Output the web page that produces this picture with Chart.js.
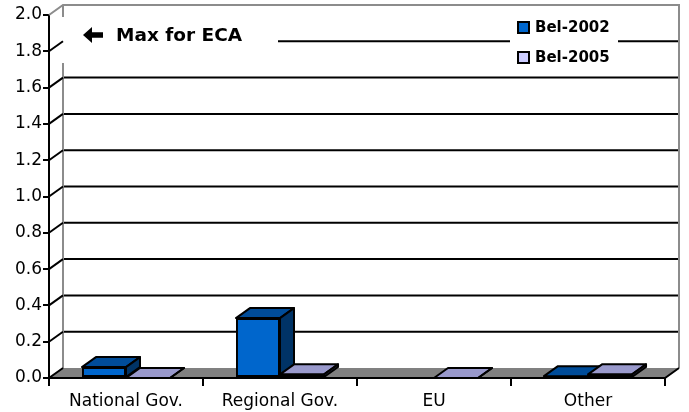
<!DOCTYPE html>
<html>
<head>
<meta charset="utf-8">
<script src="https://cdn.jsdelivr.net/npm/chart.js@4.4.0/dist/chart.umd.min.js"></script>
<style>
  body { margin: 0; background: #fff; }
  #wrap { width: 689px; height: 412px; }
</style>
</head>
<body>
<div id="wrap"><canvas id="fundingChart"></canvas></div>
<script>
// data
const categories = ["National Gov.", "Regional Gov.", "EU", "Other"];
const seriesNames = ["Bel-2002", "Bel-2005"];
const bel2002 = [0.06, 0.33, null, 0.01];
const bel2005 = [0, 0.02, 0, 0.02];
const yTickValues = [0, 0.2, 0.4, 0.6, 0.8, 1.0, 1.2, 1.4, 1.6, 1.8, 2.0];
const noteText = "Max for ECA";

// look
const FONT = "'DejaVu Sans', 'Liberation Sans', Arial, sans-serif";
const faces = [
  { front: "#0066CC", top: "#004C99", side: "#003366" },
  { front: "#CCCCFF", top: "#9999CC", side: "#666699" }
];
const DX = 14, DY = 10; // depth of the 3d box

function line(ctx, x1, y1, x2, y2) {
  ctx.beginPath();
  ctx.moveTo(x1, y1);
  ctx.lineTo(x2, y2);
  ctx.stroke();
}

function poly(ctx, pts, fill) {
  ctx.beginPath();
  ctx.moveTo(pts[0][0], pts[0][1]);
  for (let i = 1; i < pts.length; i++) ctx.lineTo(pts[i][0], pts[i][1]);
  ctx.closePath();
  ctx.fillStyle = fill;
  ctx.fill();
  ctx.stroke();
}

const box3d = {
  id: "box3d",
  beforeDatasetsDraw(chart) {
    const { ctx, chartArea: a, scales: { y } } = chart;
    const yMax = yTickValues[yTickValues.length - 1];
    ctx.save();
    ctx.lineCap = "butt";

    // gridlines on the back wall
    ctx.strokeStyle = "#000";
    ctx.lineWidth = 2;
    yTickValues.forEach(v => {
      if (v <= 0 || v >= yMax) return;
      const py = y.getPixelForValue(v);
      line(ctx, a.left + DX, py - DY, a.right + DX, py - DY);
    });

    // wall outline
    ctx.strokeStyle = "#8c8c8c";
    ctx.beginPath();
    ctx.moveTo(a.left, a.top);
    ctx.lineTo(a.left + DX, a.top - DY);
    ctx.lineTo(a.right + DX, a.top - DY);
    ctx.lineTo(a.right + DX, a.bottom - DY);
    ctx.stroke();
    line(ctx, a.left + DX, a.top - DY, a.left + DX, a.bottom - DY);

    // floor
    ctx.strokeStyle = "#000";
    ctx.fillStyle = "#808080";
    ctx.beginPath();
    ctx.moveTo(a.left, a.bottom);
    ctx.lineTo(a.left + DX, a.bottom - DY);
    ctx.lineTo(a.right + DX, a.bottom - DY);
    ctx.lineTo(a.right, a.bottom);
    ctx.closePath();
    ctx.fill();
    ctx.beginPath();
    ctx.moveTo(a.left + DX, a.bottom - DY);
    ctx.lineTo(a.left, a.bottom);
    ctx.lineTo(a.right, a.bottom);
    ctx.lineTo(a.right + DX, a.bottom - DY);
    ctx.stroke();

    // note box with arrow
    ctx.fillStyle = "#fff";
    ctx.fillRect(a.left + 13, 17, 216, 46);
    ctx.fillStyle = "#000";
    ctx.beginPath();
    ctx.moveTo(83, 35);
    ctx.lineTo(92, 27);
    ctx.lineTo(92, 32.3);
    ctx.lineTo(103, 32.3);
    ctx.lineTo(103, 37.7);
    ctx.lineTo(92, 37.7);
    ctx.lineTo(92, 43);
    ctx.closePath();
    ctx.fill();
    ctx.font = "bold 18.5px " + FONT;
    ctx.textBaseline = "middle";
    ctx.textAlign = "left";
    ctx.fillText(noteText, 116, 36);

    // legend
    ctx.fillStyle = "#fff";
    ctx.fillRect(510, 17, 108, 51);
    ctx.font = "bold 15px " + FONT;
    seriesNames.forEach((name, i) => {
      const ly = 28 + i * 30;
      ctx.lineWidth = 2;
      ctx.strokeStyle = "#000";
      ctx.fillStyle = faces[i].front;
      ctx.fillRect(518, ly - 6, 11, 11);
      ctx.strokeRect(518, ly - 6, 11, 11);
      ctx.fillStyle = "#000";
      ctx.fillText(name, 535, ly);
    });

    // side wall lines from the front axis to the back wall
    ctx.lineWidth = 2;
    yTickValues.forEach(v => {
      if (v <= 0 || v >= yMax) return;
      const py = y.getPixelForValue(v);
      ctx.strokeStyle = "#000";
      line(ctx, a.left, py, a.left + DX, py - DY);
    });
    ctx.restore();
  },
  afterDatasetsDraw(chart) {
    const { ctx } = chart;
    const series = [bel2002, bel2005];
    ctx.save();
    ctx.lineWidth = 2;
    ctx.lineJoin = "round";
    ctx.strokeStyle = "#000";
    categories.forEach((c, i) => {
      series.forEach((vals, d) => {
        if (vals[i] == null) return;
        const el = chart.getDatasetMeta(d).data[i];
        const p = el.getProps(["x", "y", "base", "width"], true);
        const x0 = p.x - p.width / 2, x1 = p.x + p.width / 2;
        if (p.base - p.y > 1) el.draw(ctx);
        ctx.lineWidth = 2;
        ctx.strokeStyle = "#000";
        poly(ctx, [[x0, p.y], [x0 + DX, p.y - DY], [x1 + DX, p.y - DY], [x1, p.y]], faces[d].top);
        poly(ctx, [[x1, p.y], [x1 + DX, p.y - DY], [x1 + DX, p.base - DY], [x1, p.base]], faces[d].side);
      });
    });
    ctx.restore();
  }
};

const ctx = document.getElementById("fundingChart").getContext("2d");

new Chart(ctx, {
  type: "bar",
  data: {
    labels: categories,
    datasets: [{
      label: seriesNames[0],
      data: bel2002,
      backgroundColor: faces[0].front,
      borderColor: "#000",
      borderWidth: 2,
      borderSkipped: false
    }, {
      label: seriesNames[1],
      data: bel2005,
      backgroundColor: faces[1].front,
      borderColor: "#000",
      borderWidth: 2,
      borderSkipped: false
    }]
  },
  options: {
    responsive: true,
    maintainAspectRatio: false,
    animation: false,
    layout: { padding: { left: 0, right: 24, top: 15, bottom: 0 } },
    datasets: { bar: { barPercentage: 1, categoryPercentage: 0.572 } },
    scales: {
      x: {
        afterFit: s => { s.height = 34; },
        grid: { drawOnChartArea: false, drawTicks: true, tickLength: 8, color: "#000", lineWidth: 2, offset: true },
        border: { display: true, color: "#000", width: 2 },
        ticks: { color: "#000", font: { family: FONT, size: 17 }, padding: 5 }
      },
      y: {
        min: 0,
        max: 2,
        afterFit: s => { s.width = 49; },
        afterBuildTicks: s => { s.ticks = yTickValues.map(v => ({ value: v })); },
        grid: { drawOnChartArea: false, drawTicks: true, tickLength: 6, color: "#000", lineWidth: 2 },
        border: { display: true, color: "#000", width: 2 },
        ticks: { color: "#000", font: { family: FONT, size: 17 }, padding: 1, callback: v => v.toFixed(1) }
      }
    },
    plugins: {
      legend: { display: false },
      tooltip: { enabled: false }
    }
  },
  plugins: [box3d]
});
</script>
</body>
</html>
